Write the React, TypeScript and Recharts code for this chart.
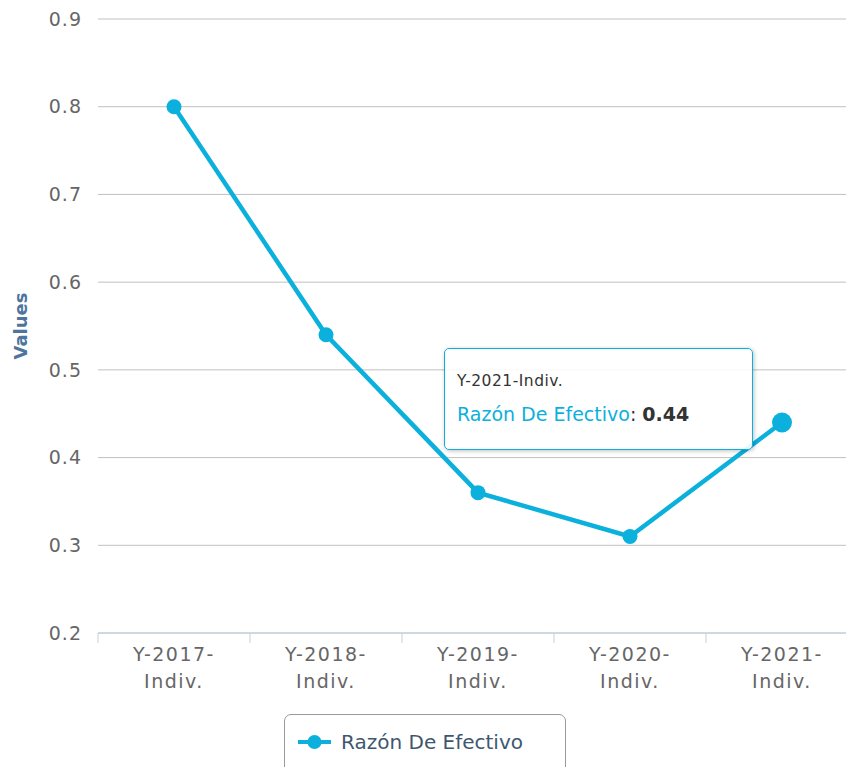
import React from "react";
import { LineChart, Line, XAxis, YAxis, CartesianGrid, Tooltip, Legend } from "recharts";

const categories = ["Y-2017-Indiv.", "Y-2018-Indiv.", "Y-2019-Indiv.", "Y-2020-Indiv.", "Y-2021-Indiv."];
const razonDeEfectivo = [0.8, 0.54, 0.36, 0.31, 0.44];
const yTicks = [0.2, 0.3, 0.4, 0.5, 0.6, 0.7, 0.8, 0.9];
const seriesName = "Razón De Efectivo";

const data = categories.map((c, i) => ({ name: c, value: razonDeEfectivo[i] }));

const FONT = "'DejaVu Sans', Verdana, sans-serif";
const CYAN = "#0cb0dc";
const AXIS = "#c0d0e0";
const HALF_BAND = 76;

// x labels wrap after the last hyphen, tick marks sit on category edges
function CategoryTick(props: any) {
  const { x, y, payload } = props;
  const label = String(payload.value);
  const cut = label.lastIndexOf("-") + 1;
  const isLast = label === categories[categories.length - 1];
  return (
    <g>
      <line x1={x - HALF_BAND} x2={x - HALF_BAND} y1={y} y2={y + 10} stroke={AXIS} />
      {isLast && <line x1={x + HALF_BAND} x2={x + HALF_BAND} y1={y} y2={y + 10} stroke={AXIS} />}
      <text x={x} y={y} textAnchor="middle" fill="#666" fontSize={19} fontFamily={FONT} letterSpacing={1.5}>
        <tspan x={x} dy={28}>{label.slice(0, cut)}</tspan>
        <tspan x={x} dy={27}>{label.slice(cut)}</tspan>
      </text>
    </g>
  );
}

function YTitle(props: any) {
  const vb = props.viewBox || {};
  const cy = vb.y + vb.height / 2;
  return (
    <text
      x={27}
      y={cy}
      transform={`rotate(-90, 27, ${cy})`}
      textAnchor="middle"
      fill="#4d759e"
      fontSize={18}
      fontWeight="bold"
      fontFamily={FONT}
    >
      Values
    </text>
  );
}

function TipBox(props: any) {
  const { payload, label } = props;
  if (!payload || !payload.length) return null;
  const p = payload[0];
  return (
    <div
      style={{
        width: 309,
        height: 102,
        boxSizing: "border-box",
        border: `1.5px solid ${CYAN}`,
        borderRadius: 5,
        background: "rgba(255,255,255,0.9)",
        boxShadow: "1px 1px 4px rgba(0,0,0,0.25)",
        padding: "22px 12px 0 12px",
        fontFamily: FONT,
      }}
    >
      <div style={{ fontSize: 15.5, lineHeight: "20px", color: "#333", letterSpacing: 0.5 }}>{label}</div>
      <div style={{ fontSize: 19, lineHeight: "24px", marginTop: 11, color: "#333" }}>
        <span style={{ color: CYAN }}>{p.name}</span>: <b>{p.value}</b>
      </div>
    </div>
  );
}

function LegendBox(props: any) {
  const item = (props.payload || [])[0];
  if (!item) return null;
  return (
    <div
      style={{
        width: 282,
        height: 70,
        boxSizing: "border-box",
        border: "1px solid #999",
        borderRadius: 7,
        display: "flex",
        alignItems: "flex-start",
        paddingTop: 16,
        paddingLeft: 12,
        fontFamily: FONT,
      }}
    >
      <svg width={36} height={22} style={{ marginRight: 8 }}>
        <line x1={1} x2={34} y1={11} y2={11} stroke={CYAN} strokeWidth={4} />
        <circle cx={17.5} cy={11} r={7} fill={CYAN} />
      </svg>
      <span style={{ fontSize: 20, lineHeight: "22px", color: "#3e576f" }}>{item.value}</span>
    </div>
  );
}

export default function App() {
  return (
    <div style={{ position: "absolute", left: 0, top: 0, width: 846, height: 767, overflow: "hidden", background: "#fff" }}>
      <LineChart width={870} height={767} data={data} margin={{ top: 19, right: 12, bottom: 0, left: 0 }}>
        <CartesianGrid vertical={false} stroke="#c0c0c0" />
        <XAxis
          dataKey="name"
          height={64}
          padding={{ left: HALF_BAND, right: HALF_BAND }}
          interval={0}
          stroke={AXIS}
          tickLine={false}
          tickSize={0}
          tickMargin={0}
          tick={<CategoryTick />}
        />
        <YAxis
          type="number"
          width={98}
          domain={[0.2, 0.9]}
          ticks={yTicks}
          interval={0}
          allowDataOverflow
          axisLine={false}
          tickLine={false}
          tickSize={6}
          tickMargin={10}
          tickFormatter={(v: number) => v.toFixed(1)}
          tick={{ fill: "#666", fontSize: 19, fontFamily: FONT, letterSpacing: 1 }}
          label={{ content: <YTitle /> }}
        />
        <Tooltip
          active
          defaultIndex={4}
          position={{ x: 444, y: 348 }}
          cursor={false}
          isAnimationActive={false}
          content={<TipBox />}
        />
        <Legend
          layout="horizontal"
          verticalAlign="bottom"
          align="center"
          wrapperStyle={{ top: 714, left: 284, width: 282 }}
          content={<LegendBox />}
        />
        <Line
          type="linear"
          dataKey="value"
          name={seriesName}
          stroke={CYAN}
          strokeWidth={4.5}
          dot={{ r: 7.5, fill: CYAN, stroke: "none" }}
          activeDot={{ r: 10, fill: CYAN, stroke: "none" }}
          isAnimationActive={false}
        />
      </LineChart>
    </div>
  );
}
